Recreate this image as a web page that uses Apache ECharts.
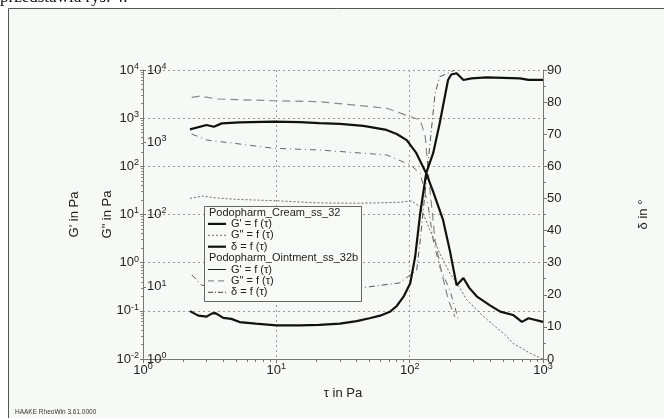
<!DOCTYPE html>
<html>
<head>
<meta charset="utf-8">
<script src="https://cdn.jsdelivr.net/npm/echarts@6/dist/echarts.min.js"></script>
<style>
  html, body { margin: 0; padding: 0; background: #fff; }
  #chart { width: 664px; height: 418px; }
</style>
</head>
<body>
<div id="chart"></div>
<script>
/* ---------- data ---------- */
// Podopharm_Cream_ss_32
const creamGpTau = [2.25, 3, 3.4, 3.9, 5.3, 9.5, 15, 21, 30, 45, 67, 80, 95, 112, 133, 150, 178, 200, 225, 253, 280, 318, 400, 478, 596, 694, 779, 1000];
const creamGpVal = [587, 720, 665, 780, 820, 845, 830, 790, 760, 690, 570, 470, 350, 190, 72, 30, 7.7, 1.8, 0.34, 0.48, 0.3, 0.2, 0.13, 0.096, 0.082, 0.059, 0.07, 0.059];

const creamGppTau = [2.25, 2.8, 3.5, 5, 10, 20, 40, 60, 84, 103, 120, 142, 168, 200, 225, 268, 337, 420, 522, 595, 800, 1000];
const creamGppVal = [167, 180, 170, 162, 155, 145, 143, 145, 148, 154, 128, 61, 29, 15.5, 11.3, 6.6, 4.3, 3.0, 2.15, 1.65, 1.2, 1.0];

const creamDeltaTau = [2.25, 2.6, 3, 3.3, 3.5, 4, 4.6, 5.3, 7, 10, 15, 21, 30, 40, 50, 60, 71, 80, 90, 101, 110, 120, 133, 150, 168, 194, 205, 225, 253, 291, 377, 670, 779, 1000];
const creamDeltaVal = [14.9, 13.5, 13.2, 14.2, 14.3, 12.8, 12.5, 11.5, 11, 10.5, 10.5, 10.6, 11, 11.8, 12.7, 13.5, 14.7, 16.5, 19.4, 23.6, 31.9, 45.4, 57.9, 64.1, 73.4, 86.9, 88.6, 89, 86.9, 87.4, 87.7, 87.4, 86.9, 86.9];

// Podopharm_Ointment_ss_32b
const ointGpTau = [2.32, 3, 5.34, 9.5, 21.3, 67.3, 101, 120, 138, 150, 168, 200, 235];
const ointGpVal = [469, 352, 290, 237, 218, 172, 107, 72, 14.5, 2.95, 0.82, 0.27, 0.059];

const ointGppTau = [2.32, 2.68, 3.57, 9.5, 21.3, 67.3, 101, 120, 131, 138, 155, 174, 195, 218];
const ointGppVal = [4190, 4365, 3970, 3755, 3640, 2950, 2258, 2033, 1193, 372, 44, 15.5, 6.6, 3.85];

const ointDeltaTau = [2.32, 2.75, 5, 10, 20, 42, 84, 113, 120, 135, 155, 168, 194, 218];
const ointDeltaVal = [26.2, 23.0, 21.5, 21.5, 21.8, 22.1, 23.7, 27.7, 37.1, 57.9, 82.7, 87.9, 89.0, 90];

// axis ranges / tick labels
const tauDecades = [0, 1, 2, 3];
const gpDecades = [-2, -1, 0, 1, 2, 3, 4];
const gppDecades = [0, 1, 2, 3, 4];
const deltaTicks = [0, 10, 20, 30, 40, 50, 60, 70, 80, 90];

/* ---------- helpers ---------- */
const zip = (xs, ys) => xs.map((x, i) => [x, ys[i]]);
const FONT = 'Liberation Sans';
const supRich = {
  b: { fontSize: 13, color: '#222', fontFamily: FONT },
  s: { fontSize: 9, color: '#222', fontFamily: FONT, padding: [0, 0, 7, 0] }
};
const powLabel = (v) => '{b|10}{s|' + Math.round(Math.log10(v)) + '}';
const dotted = { show: true, lineStyle: { color: '#9a9a9a', type: [2, 3], width: 1 } };
const axisGray = { show: true, lineStyle: { color: '#777', width: 1 } };

/* ---------- chart ---------- */
const chart = echarts.init(document.getElementById('chart'));

const legendTop = 206, legendLeft = 204, rowH = 11.4;
const legendRows = [
  { text: 'Podopharm_Cream_ss_32', head: true },
  { text: "G' = f (τ)", line: { stroke: '#111', lineWidth: 2.2 } },
  { text: 'G" = f (τ)', line: { stroke: '#666', lineWidth: 1, lineDash: [2, 2] } },
  { text: 'δ = f (τ)', line: { stroke: '#111', lineWidth: 2.2 } },
  { text: 'Podopharm_Ointment_ss_32b', head: true },
  { text: "G' = f (τ)", line: { stroke: '#222', lineWidth: 1 } },
  { text: 'G" = f (τ)', line: { stroke: '#777', lineWidth: 1, lineDash: [6, 4] } },
  { text: 'δ = f (τ)', line: { stroke: '#444', lineWidth: 1, lineDash: [5, 2, 1, 2] } }
];
const legendEls = [{
  type: 'rect', z: 100,
  shape: { x: legendLeft + 0.5, y: legendTop + 0.5, width: 157, height: 95 },
  style: { fill: '#f7fbf8', stroke: '#666', lineWidth: 1 }
}];
legendRows.forEach((r, i) => {
  const cy = legendTop + 6.5 + i * rowH;
  if (r.line) {
    legendEls.push({
      type: 'line', z: 101,
      shape: { x1: legendLeft + 4, y1: cy, x2: legendLeft + 22, y2: cy },
      style: Object.assign({}, r.line)
    });
  }
  legendEls.push({
    type: 'text', z: 101,
    style: {
      x: legendLeft + (r.head ? 5 : 27), y: cy, text: r.text,
      font: '11px "' + FONT + '"', fill: '#222', verticalAlign: 'middle'
    }
  });
});

const option = {
  backgroundColor: '#f5faf7',
  animation: false,
  grid: { left: 143, right: 121, top: 70, bottom: 59 },
  graphic: [
    { type: 'rect', z: 50, shape: { x: 0, y: 0, width: 664, height: 8 }, style: { fill: '#fff' } },
    { type: 'rect', z: 50, shape: { x: 0, y: 0, width: 8, height: 418 }, style: { fill: '#fff' } },
    { type: 'line', z: 51, shape: { x1: 8.5, y1: 8.5, x2: 664, y2: 8.5 }, style: { stroke: '#555', lineWidth: 1 } },
    { type: 'line', z: 51, shape: { x1: 8.5, y1: 8.5, x2: 8.5, y2: 418 }, style: { stroke: '#555', lineWidth: 1 } },
    {
      type: 'text', z: 52,
      style: { x: 0, y: 6, text: 'przedstawia rys. 4.', font: '17px "Liberation Serif"', fill: '#111', verticalAlign: 'bottom' }
    },
    {
      type: 'text', z: 52,
      style: { x: 15, y: 412, text: 'HAAKE RheoWin 3.61.0000', font: '6.5px "' + FONT + '"', fill: '#333', verticalAlign: 'middle' }
    }
  ].concat(legendEls),
  xAxis: {
    type: 'log', logBase: 10,
    min: Math.pow(10, tauDecades[0]), max: Math.pow(10, tauDecades[tauDecades.length - 1]),
    name: 'τ in Pa', nameLocation: 'middle', nameGap: 28,
    nameTextStyle: { fontSize: 13, color: '#222', fontFamily: FONT },
    axisLine: axisGray,
    axisTick: { show: true, length: 4, lineStyle: { color: '#777' } },
    minorTick: { show: true, splitNumber: 9, length: 3, lineStyle: { color: '#777' } },
    axisLabel: { margin: 3, formatter: powLabel, rich: supRich, showMinLabel: true, showMaxLabel: true },
    splitLine: dotted
  },
  yAxis: [
    {
      type: 'log', logBase: 10, position: 'left',
      min: Math.pow(10, gpDecades[0]), max: Math.pow(10, gpDecades[gpDecades.length - 1]),
      name: "G' in Pa", nameLocation: 'middle', nameGap: 62, nameRotate: 90,
      nameTextStyle: { fontSize: 13, color: '#222', fontFamily: FONT },
      axisLine: axisGray,
      axisTick: { show: true, length: 3, lineStyle: { color: '#777' } },
      minorTick: { show: true, splitNumber: 9, length: 2, lineStyle: { color: '#888' } },
      axisLabel: { margin: 4, formatter: powLabel, rich: supRich, showMinLabel: true, showMaxLabel: true },
      splitLine: dotted
    },
    {
      type: 'log', logBase: 10, position: 'left',
      min: Math.pow(10, gppDecades[0]), max: Math.pow(10, gppDecades[gppDecades.length - 1]),
      name: 'G" in Pa', nameLocation: 'middle', nameGap: 29, nameRotate: 90,
      nameTextStyle: { fontSize: 13, color: '#222', fontFamily: FONT },
      axisLine: { show: false },
      axisTick: { show: true, inside: true, length: 3, lineStyle: { color: '#777' } },
      axisLabel: { inside: true, margin: 4, formatter: powLabel, rich: supRich, showMinLabel: true, showMaxLabel: true },
      splitLine: { show: false }
    },
    {
      type: 'value', position: 'right',
      min: deltaTicks[0], max: deltaTicks[deltaTicks.length - 1], interval: 10,
      name: 'δ in °', nameLocation: 'middle', nameGap: 94, nameRotate: 90,
      nameTextStyle: { fontSize: 13, color: '#222', fontFamily: FONT },
      axisLine: axisGray,
      axisTick: { show: true, length: 4, lineStyle: { color: '#777' } },
      minorTick: { show: true, splitNumber: 2, length: 3, lineStyle: { color: '#777' } },
      axisLabel: { margin: 4, fontSize: 13, color: '#222', fontFamily: FONT },
      splitLine: { show: false }
    }
  ],
  series: [
    {
      name: "Cream G'", type: 'line', yAxisIndex: 0, showSymbol: false, z: 5,
      data: zip(creamGpTau, creamGpVal),
      lineStyle: { color: '#111', width: 2.2 }
    },
    {
      name: 'Cream G"', type: 'line', yAxisIndex: 1, showSymbol: false, z: 4,
      data: zip(creamGppTau, creamGppVal),
      lineStyle: { color: '#666', width: 1, type: [2, 2] }
    },
    {
      name: 'Cream δ', type: 'line', yAxisIndex: 2, showSymbol: false, z: 5,
      data: zip(creamDeltaTau, creamDeltaVal),
      lineStyle: { color: '#111', width: 2.2 }
    },
    {
      name: "Ointment G'", type: 'line', yAxisIndex: 0, showSymbol: false, z: 3,
      data: zip(ointGpTau, ointGpVal),
      lineStyle: { color: '#666', width: 1, type: [6, 4, 1, 4] }
    },
    {
      name: 'Ointment G"', type: 'line', yAxisIndex: 1, showSymbol: false, z: 3,
      data: zip(ointGppTau, ointGppVal),
      lineStyle: { color: '#888', width: 1.2, type: [8, 5] }
    },
    {
      name: 'Ointment δ', type: 'line', yAxisIndex: 2, showSymbol: false, z: 3,
      data: zip(ointDeltaTau, ointDeltaVal),
      lineStyle: { color: '#555', width: 1, type: [6, 3, 1, 3] }
    }
  ]
};

chart.setOption(option);
</script>
</body>
</html>
